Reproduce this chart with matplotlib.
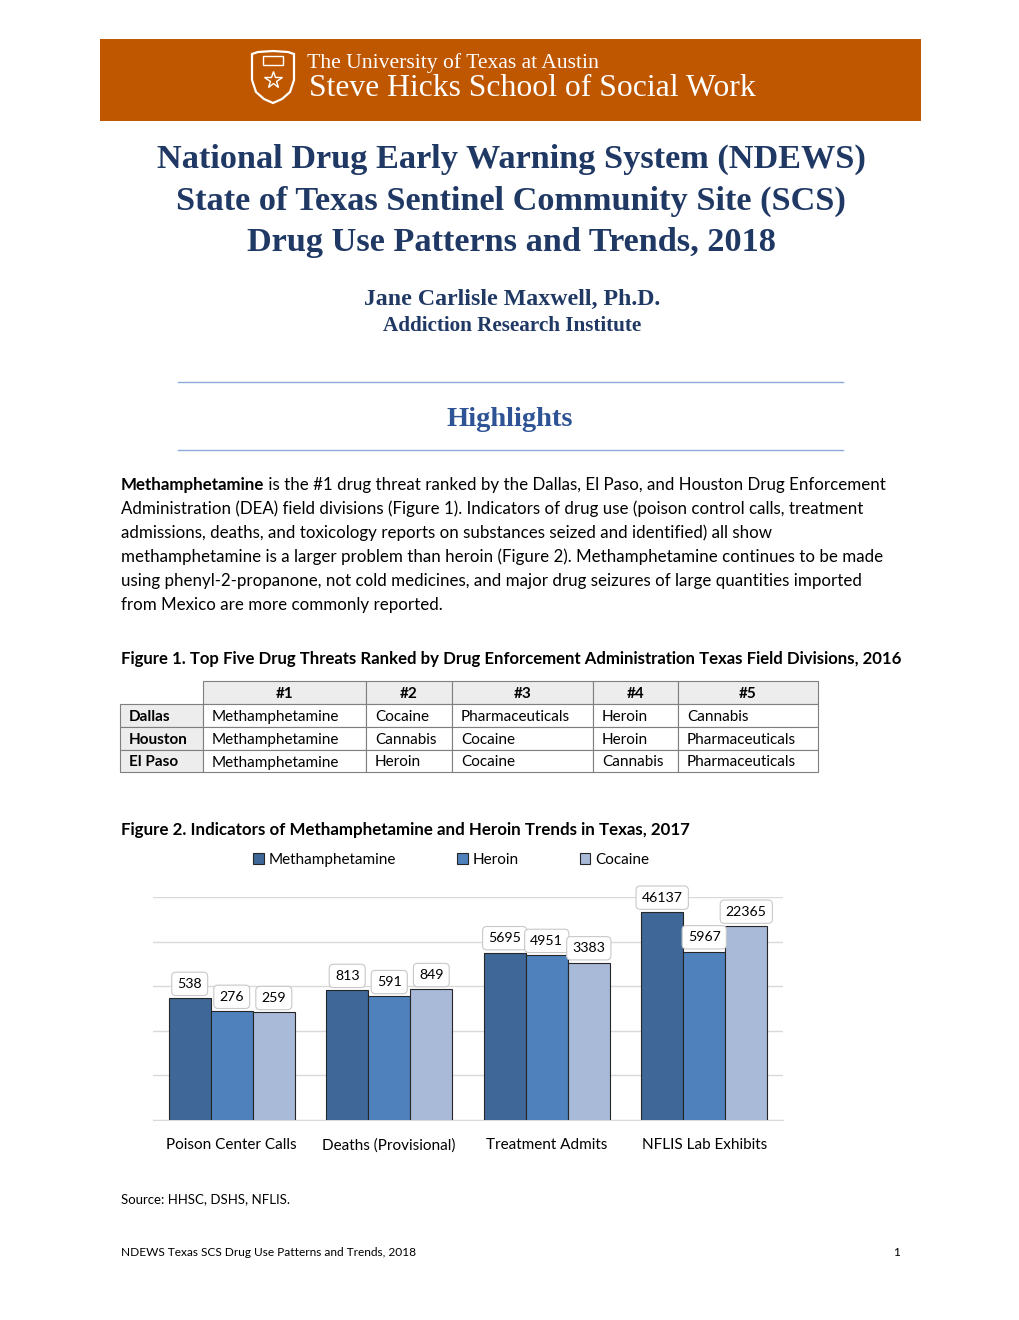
import numpy as np
import matplotlib.pyplot as plt
from matplotlib.patches import Rectangle, Polygon

# figure 2 data
categories = ['Poison Center Calls', 'Deaths (Provisional)', 'Treatment Admits', 'NFLIS Lab Exhibits']
series = ['Methamphetamine', 'Heroin', 'Cocaine']
meth = [538, 813, 5695, 46137]
heroin = [276, 591, 4951, 5967]
cocaine = [259, 849, 3383, 22365]
colors = ['#3F6797', '#4F81BD', '#A9B9D8']

# figure 1 table
tab_cols = ['#1', '#2', '#3', '#4', '#5']
tab_rows = ['Dallas', 'Houston', 'El Paso']
tab_cells = [
    ['Methamphetamine', 'Cocaine', 'Pharmaceuticals', 'Heroin', 'Cannabis'],
    ['Methamphetamine', 'Cannabis', 'Cocaine', 'Heroin', 'Pharmaceuticals'],
    ['Methamphetamine', 'Heroin', 'Cocaine', 'Cannabis', 'Pharmaceuticals'],
]

body_lines = [
    ' is the #1 drug threat ranked by the Dallas, El Paso, and Houston Drug Enforcement',
    'Administration (DEA) field divisions (Figure 1). Indicators of drug use (poison control calls, treatment',
    'admissions, deaths, and toxicology reports on substances seized and identified) all show',
    'methamphetamine is a larger problem than heroin (Figure 2). Methamphetamine continues to be made',
    'using phenyl-2-propanone, not cold medicines, and major drug seizures of large quantities imported',
    'from Mexico are more commonly reported.',
]

W, H = 1020, 1320
fig = plt.figure(figsize=(10.2, 13.2), dpi=100)
pg = fig.add_axes([0, 0, 1, 1])
pg.set_xlim(0, W)
pg.set_ylim(H, 0)
pg.axis('off')

navy = '#1F3864'
body = 'Lato'

# header band + shield
pg.add_patch(Rectangle((100, 39), 821, 82, color='#BF5700', lw=0))
shield = [(252, 54), (258, 52), (273, 51), (288, 52), (294, 54), (294, 80),
          (290, 92), (282, 99), (273, 103), (264, 99), (256, 92), (252, 80)]
pg.add_patch(Polygon(shield, closed=True, fill=False, ec='white', lw=1.6))
pg.add_patch(Rectangle((263, 56), 20, 9, fill=False, ec='white', lw=1))
pg.plot([273], [80], marker='*', ms=13, mfc='none', mec='white', mew=1)
pg.text(307, 63, 'The University of Texas at Austin', color='white',
        family='Liberation Serif', fontsize=15.6, va='center')
pg.text(309, 89, 'Steve Hicks School of Social Work', color='white',
        family='Liberation Serif', fontsize=22.8, va='center')

# titles
for y, s in zip([159, 201, 243], ['National Drug Early Warning System (NDEWS)',
                                  'State of Texas Sentinel Community Site (SCS)',
                                  'Drug Use Patterns and Trends, 2018']):
    pg.text(511, y, s, ha='center', va='center', color=navy,
            family='Liberation Serif', weight='bold', fontsize=24.7)
pg.text(512, 299, 'Jane Carlisle Maxwell, Ph.D.', ha='center', va='center',
        color=navy, family='Liberation Serif', weight='bold', fontsize=17.2)
pg.text(512, 326, 'Addiction Research Institute', ha='center', va='center',
        color=navy, family='Liberation Serif', weight='bold', fontsize=15.2)
for y in [382, 450]:
    pg.plot([178, 843], [y, y], color='#8EAADB', lw=1)
pg.text(510, 419, 'Highlights', ha='center', va='center', color='#2F5496',
        family='Liberation Serif', weight='bold', fontsize=20.5)

# paragraph
fs = 12.2
t0 = pg.text(121, 485, 'Methamphetamine', weight='bold', family=body,
             fontsize=fs, va='center')
fig.canvas.draw()
bb = t0.get_window_extent()
x_after = bb.x1
for i, s in enumerate(body_lines):
    x = x_after if i == 0 else 121
    pg.text(x, 485 + 24 * i, s, family=body, fontsize=fs, va='center')

# figure 1
pg.text(121, 659, 'Figure 1. Top Five Drug Threats Ranked by Drug Enforcement Administration Texas Field Divisions, 2016',
        weight='bold', family=body, fontsize=12.1, va='center')
col_x = [120, 203, 366, 452, 593, 678, 818]
row_y = [681, 704, 727, 750, 772]
tfs = 11
for j, c in enumerate(tab_cols):
    x0, x1 = col_x[j + 1], col_x[j + 2]
    pg.add_patch(Rectangle((x0, row_y[0]), x1 - x0, row_y[1] - row_y[0],
                           fc='#EDEDED', ec='#7F7F7F', lw=0.8))
    pg.text((x0 + x1) / 2, (row_y[0] + row_y[1]) / 2 + 1.5, c, ha='center',
            va='center', weight='bold', family=body, fontsize=tfs)
for i, r in enumerate(tab_rows):
    y0, y1 = row_y[i + 1], row_y[i + 2]
    pg.add_patch(Rectangle((col_x[0], y0), col_x[1] - col_x[0], y1 - y0,
                           fc='#EDEDED', ec='#7F7F7F', lw=0.8))
    pg.text(col_x[0] + 9, (y0 + y1) / 2 + 1.5, r, va='center', weight='bold',
            family=body, fontsize=tfs)
    for j, v in enumerate(tab_cells[i]):
        x0, x1 = col_x[j + 1], col_x[j + 2]
        pg.add_patch(Rectangle((x0, y0), x1 - x0, y1 - y0, fc='white',
                               ec='#7F7F7F', lw=0.8))
        pg.text(x0 + 9, (y0 + y1) / 2 + 1.5, v, va='center', family=body,
                fontsize=tfs)

# figure 2
pg.text(121, 830, 'Figure 2. Indicators of Methamphetamine and Heroin Trends in Texas, 2017',
        weight='bold', family=body, fontsize=12.2, va='center')

ax = fig.add_axes([153 / W, 1 - 1120 / H, 630 / W, 223 / H])
ax.set_yscale('log')
ax.set_ylim(1, 1e5)
ax.set_xlim(-0.5, 3.5)
x = np.arange(len(categories))
bw = 0.267
bars = []
for k, (vals, col, name) in enumerate(zip([meth, heroin, cocaine], colors, series)):
    b = ax.bar(x + (k - 1) * bw, vals, bw, color=col, edgecolor='#262626',
               lw=0.8, label=name, zorder=3)
    bars.append(b)
    for xi, v in zip(x + (k - 1) * bw, vals):
        ax.annotate(str(v), (xi, v), xytext=(0, 6), textcoords='offset points',
                    ha='center', va='bottom', family=body, fontsize=10.2,
                    zorder=5,
                    bbox=dict(boxstyle='round,pad=0.4,rounding_size=0.3',
                              fc='white', ec='#C8C8C8', lw=0.8))
ax.yaxis.grid(True, which='major', color='#D9D9D9', lw=1, zorder=0)
ax.yaxis.grid(False, which='minor')
ax.tick_params(axis='y', which='both', left=False, labelleft=False)
ax.set_xticks(x)
ax.set_xticklabels(categories, family=body, fontsize=11)
ax.tick_params(axis='x', length=0, pad=13)
for s in ['top', 'right', 'left']:
    ax.spines[s].set_visible(False)
ax.spines['bottom'].set_color('#D9D9D9')
ax.patch.set_alpha(0)

fig.legend(handles=bars, labels=series, loc='center',
           bbox_to_anchor=(451 / W, 1 - 860 / H), ncol=3, frameon=False,
           prop={'family': body, 'size': 11}, handlelength=0.7,
           handleheight=0.7, handletextpad=0.3, columnspacing=4.0)

pg.text(121, 1199, 'Source: HHSC, DSHS, NFLIS.', family=body, fontsize=9.5, va='center')
pg.text(121, 1253, 'NDEWS Texas SCS Drug Use Patterns and Trends, 2018', family=body,
        fontsize=8.6, va='center')
pg.text(900, 1253, '1', family=body, fontsize=8.6, va='center', ha='right')

fig.savefig('out.png', dpi=100)
